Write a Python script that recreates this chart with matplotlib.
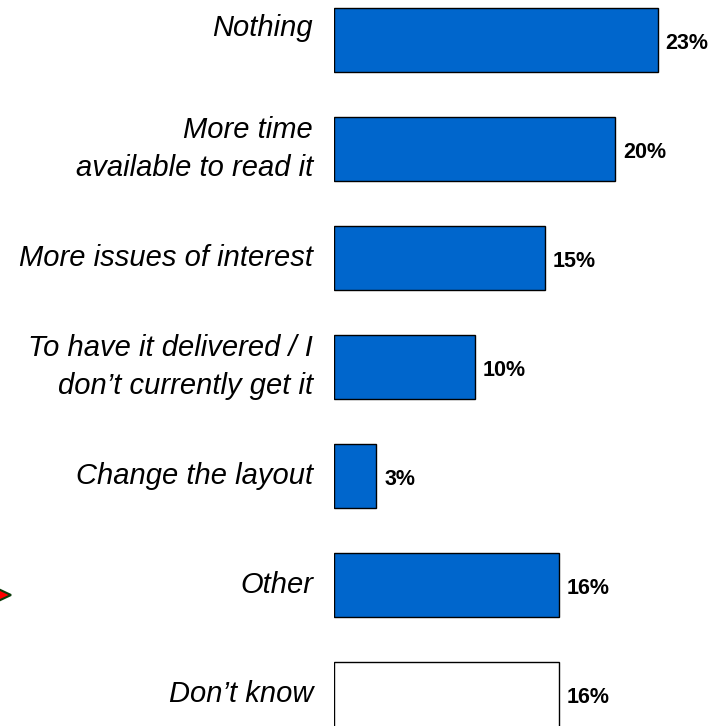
#!/usr/bin/env python3
"""Horizontal bar chart: what would make people read it more."""
import matplotlib
matplotlib.use('Agg')
import matplotlib.pyplot as plt
from matplotlib.patches import Polygon

categories = ['Nothing', 'More time\navailable to read it', 'More issues of interest',
              'To have it delivered / I\ndon\u2019t currently get it', 'Change the layout',
              'Other', 'Don\u2019t know']
values = [23, 20, 15, 10, 3, 16, 16]
fills = ['#0066CC'] * 6 + ['white']

plt.rcParams['font.family'] = ['Liberation Sans', 'DejaVu Sans']

W = H = 726
PX = 14.07  # pixels per percentage point
ROW = 109.0  # pixels between bar centres
fig = plt.figure(figsize=(W / 100, H / 100), dpi=100)
ax = fig.add_axes([334 / W, 0, 366 / W, 1])
ax.set_xlim(0, 366 / PX)
ax.set_ylim(6.29, -0.367)

ypos = list(range(len(values)))
ax.barh(ypos, values, height=0.59, color=fills, edgecolor='black', linewidth=1.0)

for y, v, lab in zip(ypos, values, categories):
    ax.text(v + 8 / PX, y + 3 / ROW, f'{v}%', ha='left', va='center',
            fontsize=15.5, fontweight='bold')
    ly = y - 12 / ROW if y == 0 else y
    ax.text(-21 / PX, ly, lab, ha='right', va='center', multialignment='right',
            fontsize=21, fontstyle='italic', linespacing=1.45, clip_on=False)

ax.axis('off')

# small red pointer at the left edge
pts = [(-6, 587), (11, 595), (-6, 603)]
tri = Polygon([(x / W, 1 - y / H) for x, y in pts], closed=True,
              facecolor='#FF0000', edgecolor='#0B3D0B', linewidth=1.5,
              transform=fig.transFigure)
fig.patches.append(tri)

fig.savefig('out.png', dpi=100)
